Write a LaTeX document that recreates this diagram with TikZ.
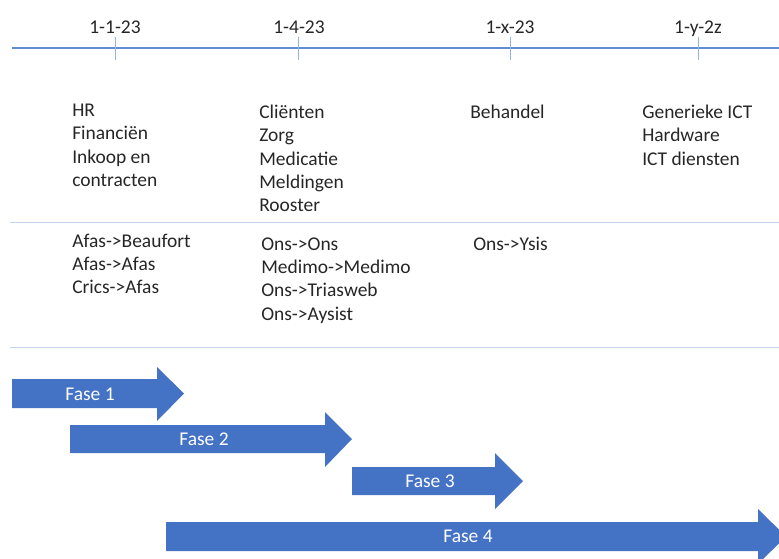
\documentclass[tikz,border=0pt]{standalone}
\usepackage{fontspec}
\setmainfont{Carlito}
\usepackage{tikz}

\definecolor{fasblue}{RGB}{68,114,196}
\definecolor{axisblue}{RGB}{96,140,212}
\definecolor{tickblue}{RGB}{150,180,226}
\definecolor{ruleblue}{RGB}{198,212,238}
\definecolor{txtgray}{RGB}{38,38,38}

\begin{document}
\begin{tikzpicture}[x=0.75pt,y=0.75pt,yscale=-1,xscale=1,
  every node/.style={font=\fontsize{14.6}{17.5}\selectfont,text=txtgray},
  datelbl/.style={anchor=base,inner sep=0.75pt},
  itemlbl/.style={anchor=base west,inner sep=0pt,align=left},
  faselbl/.style={anchor=base,inner sep=0.75pt,text=white},
  fasearrow/.style={fill=fasblue,draw=none},
  tickline/.style={draw=tickblue,line width=0.75pt},
  ruleline/.style={draw=ruleblue,line width=0.75pt}]
\clip (0,0) rectangle (779,558);

%Timeline
\draw [draw=axisblue,line width=1.5pt]   (12,48) -- (779,48) ;
%Ticks
\draw [tickline]   (115,37) -- (115,60) ;
\draw [tickline]   (298,37) -- (298,60) ;
\draw [tickline]   (510,37) -- (510,60) ;
\draw [tickline]   (698,37) -- (698,60) ;

% Date labels
\draw (115,33) node [datelbl] (d1) {1-1-23};
\draw (299,33) node [datelbl] (d2) {1-4-23};
\draw (510,33) node [datelbl] (d3) {1-x-23};
\draw (698,33) node [datelbl] (d4) {1-y-2z};

% Domains (base = last line)
\draw (72,186.5) node [itemlbl] (dom1) {HR\\Financiën\\Inkoop en\\contracten};
\draw (259,211.8) node [itemlbl] (dom2) {Cliënten\\Zorg\\Medicatie\\Meldingen\\Rooster};
\draw (470,118.5) node [itemlbl] (dom3) {Behandel};
\draw (642,165.2) node [itemlbl] (dom4) {Generieke ICT\\Hardware\\ICT diensten};

%Rules
\draw [ruleline]   (10,222) -- (779,222) ;
\draw [ruleline]   (10,347) -- (779,347) ;

% Migrations
\draw (72,293.7) node [itemlbl] (mig1) {Afas->Beaufort\\Afas->Afas\\Crics->Afas};
\draw (261,320) node [itemlbl] (mig2) {Ons->Ons\\Medimo->Medimo\\Ons->Triasweb\\Ons->Aysist};
\draw (473,250) node [itemlbl] (mig3) {Ons->Ysis};

%Right Arrows
\fill [fasearrow] (12,379) -- (157,379) -- (157,367) -- (184,393.5) -- (157,421) -- (157,408) -- (12,408) -- cycle ;
\fill [fasearrow] (70,425) -- (325,425) -- (325,412) -- (352,439) -- (325,467) -- (325,453) -- (70,453) -- cycle ;
\fill [fasearrow] (352,467) -- (495,467) -- (495,453) -- (523,481) -- (495,509) -- (495,495) -- (352,495) -- cycle ;
\fill [fasearrow] (166,522) -- (758,522) -- (758,509) -- (786,536.5) -- (758,564) -- (758,551) -- (166,551) -- cycle ;

% Fase labels
\draw (90,400.5) node [faselbl] (f1) {Fase 1};
\draw (204,445.5) node [faselbl] (f2) {Fase 2};
\draw (430,487.5) node [faselbl] (f3) {Fase 3};
\draw (468,542.5) node [faselbl] (f4) {Fase 4};

\end{tikzpicture}
\end{document}
